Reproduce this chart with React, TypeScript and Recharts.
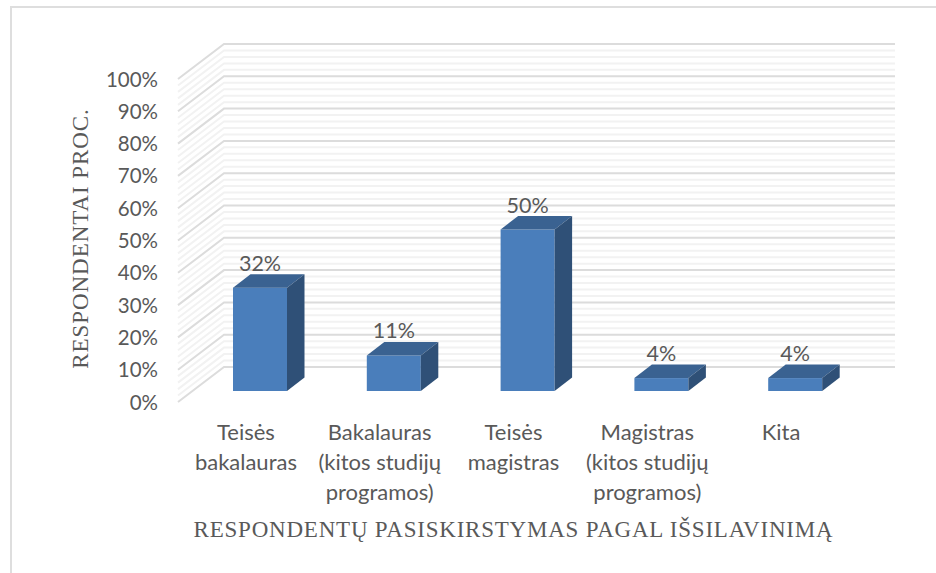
import { BarChart, Bar, XAxis, YAxis, CartesianGrid, LabelList } from 'recharts';

const categories = [
  'Teisės\nbakalauras',
  'Bakalauras\n(kitos studijų\nprogramos)',
  'Teisės\nmagistras',
  'Magistras\n(kitos studijų\nprogramos)',
  'Kita',
];
const values = [32, 11, 50, 4, 4];
const yTicks = [0, 10, 20, 30, 40, 50, 60, 70, 80, 90, 100];
const gridValues = [
  0, 2, 4, 6, 8, 10, 12, 14, 16, 18, 20, 22, 24, 26, 28, 30, 32, 34, 36, 38, 40, 42, 44, 46, 48, 50,
  52, 54, 56, 58, 60, 62, 64, 66, 68, 70, 72, 74, 76, 78, 80, 82, 84, 86, 88, 90, 92, 94, 96, 98, 100,
];

const data = categories.map((name, i) => ({ name, value: values[i] }));

const TEXT = '#595959';
const SANS = 'Lato, sans-serif';
const SERIF = '"Liberation Serif", serif';

// 3d wall: each grid line runs along the side wall, then across the back wall
function WallLine(props: any) {
  const y = props.y1;
  const major = props.index % 5 === 0;
  const back = y - 24;
  return (
    <polyline
      key={props.index}
      points={`178,${y + 11} 224,${back} 895,${back}`}
      fill="none"
      stroke={major ? '#dcdcdc' : '#f2f2f2'}
      strokeWidth={2}
    />
  );
}

function Box(props: any) {
  const { x, y, width, height } = props;
  const dx = 17.5;
  const dy = 13.5;
  const r = x + width;
  const b = y + height;
  return (
    <g>
      <rect x={x} y={y} width={width} height={height} fill="#4a7ebb" />
      <polygon points={`${x},${y} ${x + dx},${y - dy} ${r + dx},${y - dy} ${r},${y}`} fill="#3a6291" />
      <polygon points={`${r},${y} ${r + dx},${y - dy} ${r + dx},${b - dy} ${r},${b}`} fill="#2f5077" />
    </g>
  );
}

function YTick(props: any) {
  return (
    <text x={158} y={props.y + 18.5} textAnchor="end" fontFamily={SANS} fontSize={20.5} fill={TEXT}>
      {props.payload.value}%
    </text>
  );
}

function XTick(props: any) {
  const lines = String(props.payload.value).split('\n');
  return (
    <text textAnchor="middle" fontFamily={SANS} fontSize={22} fill={TEXT}>
      {lines.map((line, i) => (
        <tspan key={i} x={props.x - 14} y={440 + i * 30}>
          {line}
        </tspan>
      ))}
    </text>
  );
}

export default function App() {
  return (
    <div style={{ position: 'absolute', left: 0, top: 0, width: 936, height: 573, background: '#fff', overflow: 'hidden' }}>
      <div
        style={{
          position: 'absolute',
          left: 10,
          top: 6,
          width: 926,
          height: 567,
          borderTop: '2px solid #dedede',
          borderLeft: '2px solid #dedede',
          boxSizing: 'border-box',
        }}
      />
      <div style={{ position: 'absolute', left: 0, top: 0 }}>
        <BarChart width={936} height={573} data={data} margin={{ top: 68, right: 74, bottom: 0, left: 0 }}>
          <CartesianGrid vertical={false} horizontalValues={gridValues} horizontal={WallLine} />
          <XAxis
            dataKey="name"
            height={182}
            interval={0}
            axisLine={false}
            tickLine={false}
            tick={<XTick />}
            label={{
              value: 'RESPONDENTŲ PASISKIRSTYMAS PAGAL IŠSILAVINIMĄ',
              position: 'insideBottom',
              offset: 36,
              dx: -14,
              fill: TEXT,
              fontFamily: SERIF,
              fontSize: 23,
              letterSpacing: 0.78,
            }}
          />
          <YAxis
            width={193}
            domain={[0, 100]}
            ticks={yTicks}
            interval={0}
            axisLine={false}
            tickLine={false}
            tick={<YTick />}
            label={{
              value: 'RESPONDENTAI PROC.',
              angle: -90,
              position: 'insideLeft',
              offset: 80,
              dy: 9,
              textAnchor: 'middle',
              fill: TEXT,
              fontFamily: SERIF,
              fontSize: 23,
              letterSpacing: 0.95,
            }}
          />
          <Bar dataKey="value" barSize={54} shape={<Box />} isAnimationActive={false}>
            <LabelList
              dataKey="value"
              position="top"
              offset={17}
              formatter={(v: any) => `${v}%`}
              fill={TEXT}
              fontFamily={SANS}
              fontSize={21.5}
            />
          </Bar>
        </BarChart>
      </div>
    </div>
  );
}
